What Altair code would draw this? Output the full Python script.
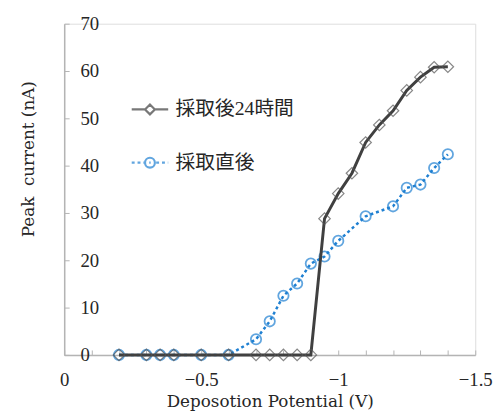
import altair as alt
import pandas as pd

# ---- data ----
names = ["採取後24時間", "採取直後"]

x_24h = [-0.2, -0.3, -0.35, -0.4, -0.5, -0.6, -0.7, -0.75, -0.8, -0.85, -0.9,
         -0.95, -1.0, -1.05, -1.1, -1.15, -1.2, -1.25, -1.3, -1.35, -1.4]
y_24h = [0, 0, 0, 0, 0, 0, 0, 0, 0, 0, 0,
         28.8, 34.1, 38.4, 44.9, 48.6, 51.6, 55.9, 58.7, 60.8, 60.9]

x_now = [-0.2, -0.3, -0.35, -0.4, -0.5, -0.6, -0.7, -0.75, -0.8, -0.85, -0.9,
         -0.95, -1.0, -1.1, -1.2, -1.25, -1.3, -1.35, -1.4]
y_now = [0, 0, 0, 0, 0, 0, 3.3, 7.1, 12.5, 15.1, 19.3,
         20.8, 24.1, 29.3, 31.4, 35.3, 36.0, 39.5, 42.4]

x_label_values = [0, -0.5, -1, -1.5]
x_tick_values = [round(-0.1 * i, 1) for i in range(16)]
y_tick_values = [0, 10, 20, 30, 40, 50, 60, 70]

df24 = pd.DataFrame({"x": x_24h, "y": y_24h, "series": names[0]})
dfnow = pd.DataFrame({"x": x_now, "y": y_now, "series": names[1]})
dfall = pd.concat([df24, dfnow], ignore_index=True)

# ---- styling ----
W, H = 417, 336
BLACK = "#404040"
BLUE = "#1f80d2"
AXIS = "#b4b4b4"
TEXT = "#262626"
FONT = "'Liberation Serif', 'Noto Sans CJK JP'"
TFONT = "'DejaVu Serif', 'Liberation Serif'"

xs = alt.Scale(domain=[-1.5, 0], reverse=True, nice=False, zero=False)
ys = alt.Scale(domain=[0, 70], nice=False)

# legend symbol paths (unit square -1..1), line sample + marker
def dotted(a, b, dot=0.16, gap=0.16):
    segs = []
    p = a
    while p < b - 1e-9:
        q = min(p + dot, b)
        segs.append(f"M{p:.3f},0L{q:.3f},0")
        p = q + gap
    return "".join(segs)

r = 0.27
path_24 = f"M-1,0L{-r},0M{r},0L1,0M{-r},0L0,{-r}L{r},0L0,{r}Z"
path_now = (dotted(-1.0, -0.30) + dotted(0.34, 1.0)
            + f"M{r},0A{r},{r} 0 1,1 {-r},0A{r},{r} 0 1,1 {r},0Z"
            + "M-0.04,0L0.04,0")

# layer with main axes: x bottom labels + title, y left domain + title
black_line = alt.Chart(df24).mark_line(color=BLACK, strokeWidth=3).encode(
    x=alt.X("x:Q", scale=xs, axis=alt.Axis(
        orient="bottom", values=x_label_values, format="~g", ticks=False,
        grid=False, domainColor=AXIS, domainWidth=1.5, labelFont=FONT,
        labelFontSize=19, labelColor=TEXT, labelPadding=16, labelFlush=False,
        title="Deposotion Potential (V)", titleFont=TFONT, titleFontSize=17,
        titleFontWeight="normal", titleColor=TEXT, titleBaseline="alphabetic",
        titleY=52, titleX=W / 2, titleAlign="center")),
    y=alt.Y("y:Q", scale=ys, axis=alt.Axis(
        orient="left", labels=False, ticks=False, grid=False,
        domainColor=AXIS, domainWidth=1.5,
        title="Peak\u00a0 current (nA)", titleFont=TFONT, titleFontSize=17,
        titleFontWeight="normal", titleColor=TEXT, titleX=-27, titleY=137,
        titleAlign="center")),
)

# layer with inner ticks: x ticks every 0.1 pointing up, y ticks/labels on inner side
blue_line = alt.Chart(dfnow).mark_line(
    color=BLUE, strokeWidth=2.5, strokeDash=[3, 3]).encode(
    x=alt.X("x:Q", scale=xs, axis=alt.Axis(
        orient="top", offset=-H, values=x_tick_values, labels=False,
        domain=False, grid=False, ticks=True, tickColor=AXIS, tickSize=5,
        tickWidth=1, title=None)),
    y=alt.Y("y:Q", scale=ys, axis=alt.Axis(
        orient="right", offset=-W, values=y_tick_values, domain=False,
        grid=False, ticks=True, tickColor=AXIS, tickSize=5, tickWidth=1,
        labelFont=FONT, labelFontSize=19, labelColor=TEXT, labelPadding=11,
        labelAlign="left", labelBaseline="middle", title=None)),
)

diamonds = alt.Chart(df24).mark_point(
    shape="diamond", size=135, filled=False, color="#555555",
    strokeWidth=1.2).encode(
    x=alt.X("x:Q", scale=xs, axis=None),
    y=alt.Y("y:Q", scale=ys, axis=None),
)

circles = alt.Chart(dfnow).mark_point(
    shape="circle", size=110, filled=False, color=BLUE,
    strokeWidth=1.8).encode(
    x=alt.X("x:Q", scale=xs, axis=None),
    y=alt.Y("y:Q", scale=ys, axis=None),
)

def legend_def():
    return alt.Legend(
        title=None, orient="none", legendX=67, legendY=67, padding=0,
        symbolSize=1369, symbolStrokeWidth=2.2, symbolFillColor="transparent",
        labelFont=FONT, labelFontSize=20, labelColor=TEXT, labelOffset=6,
        rowPadding=24, labelLimit=300)

legend_layer = alt.Chart(dfall).transform_filter("false").mark_point(
    filled=False, strokeWidth=2.2).encode(
    x=alt.X("x:Q", scale=xs, axis=None),
    y=alt.Y("y:Q", scale=ys, axis=None),
    color=alt.Color("series:N", scale=alt.Scale(domain=names, range=[BLACK, BLUE]),
                    legend=legend_def()),
    shape=alt.Shape("series:N", scale=alt.Scale(domain=names, range=[path_24, path_now]),
                    legend=legend_def()),
)

chart = alt.layer(blue_line, circles, black_line, diamonds, legend_layer).resolve_axis(
    x="independent", y="independent"
).properties(
    width=W, height=H,
    autosize=alt.AutoSizeParams(type="none"),
    padding={"left": 57, "top": 13, "right": 18, "bottom": 56},
).configure_view(stroke=None).configure(background="white")

chart.save("out.html", embed_options={"renderer": "svg", "actions": False})
